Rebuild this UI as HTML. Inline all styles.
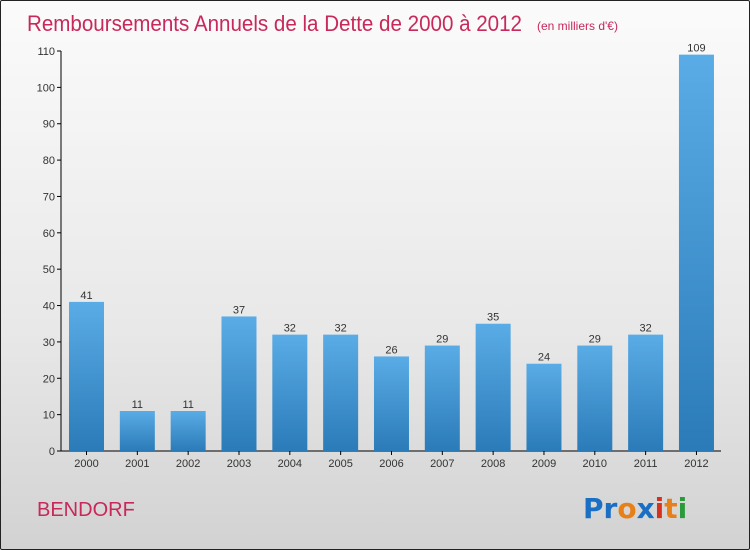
<!DOCTYPE html>
<html><head><meta charset="utf-8"><style>
body{margin:0;}
#wrap{position:relative;width:748px;height:548px;border:1px solid #222;background:linear-gradient(#fbfbfb,#e8e8e8 60%,#d2d2d2);font-family:"Liberation Sans",sans-serif;overflow:hidden;border-radius:2px}
svg{position:absolute;left:0;top:0}
</style></head><body>
<div id="wrap">
<svg id="c" width="750" height="550">
<defs><linearGradient id="g" x1="0" y1="0" x2="0" y2="1"><stop offset="0" stop-color="#5aace6"/><stop offset="1" stop-color="#2a7bb8"/></linearGradient></defs>
<text x="26" y="30" font-size="22" fill="#c8285a" textLength="495" lengthAdjust="spacingAndGlyphs">Remboursements Annuels de la Dette de 2000 à 2012</text>
<text x="536" y="29" font-size="12" fill="#c8285a">(en milliers d'€)</text>
<text x="36" y="515" font-size="20" fill="#c8285a">BENDORF</text>
<g font-size="28" font-family="'DejaVu Sans',sans-serif" font-weight="bold"><text x="582" y="517"><tspan fill="#1a6fc4">Pr</tspan><tspan fill="#e8801a">o</tspan><tspan fill="#1a6fc4">x</tspan><tspan fill="#d83020">i</tspan><tspan fill="#e8801a">t</tspan><tspan fill="#2a9a3a">i</tspan></text></g>
</svg>
</div>
<script>
const categories=["2000","2001","2002","2003","2004","2005","2006","2007","2008","2009","2010","2011","2012"];
const values=[41,11,11,37,32,32,26,29,35,24,29,32,109];
const ticks=[0,10,20,30,40,50,60,70,80,90,100,110];
const svg=document.getElementById('c');const NS='http://www.w3.org/2000/svg';
const y=v=>450-v*400/110;const x=i=>68+i*50.83;
function mk(t,a){const e=document.createElementNS(NS,t);for(const k in a)e.setAttribute(k,a[k]);svg.appendChild(e);return e;}
const ax=mk('line',{x1:60,y1:50,x2:60,y2:450,stroke:'#000'});


const bx=mk('line',{x1:60,y1:450,x2:720,y2:450,stroke:'#000'});


ticks.forEach(t=>{const l=mk('line',{x1:56,y1:y(t),x2:60,y2:y(t),stroke:'#000'});


const tx=mk('text',{x:54,y:y(t)+4,'font-size':11,'text-anchor':'end',fill:'#333'});tx.textContent=t;

});
values.forEach((v,i)=>{const r=mk('rect',{x:x(i),y:y(v),width:35,height:450-y(v),fill:'url(#g)'});


const vl=mk('text',{x:x(i)+17.5,y:y(v)-3,'font-size':11,'text-anchor':'middle',fill:'#333'});vl.textContent=v;


const cl=mk('text',{x:x(i)+17.5,y:466,'font-size':11,'text-anchor':'middle',fill:'#333'});cl.textContent=categories[i];


const tk=mk('line',{x1:x(i)+17.5,y1:450,x2:x(i)+17.5,y2:454,stroke:'#000'});

});
</script>
</body></html>
